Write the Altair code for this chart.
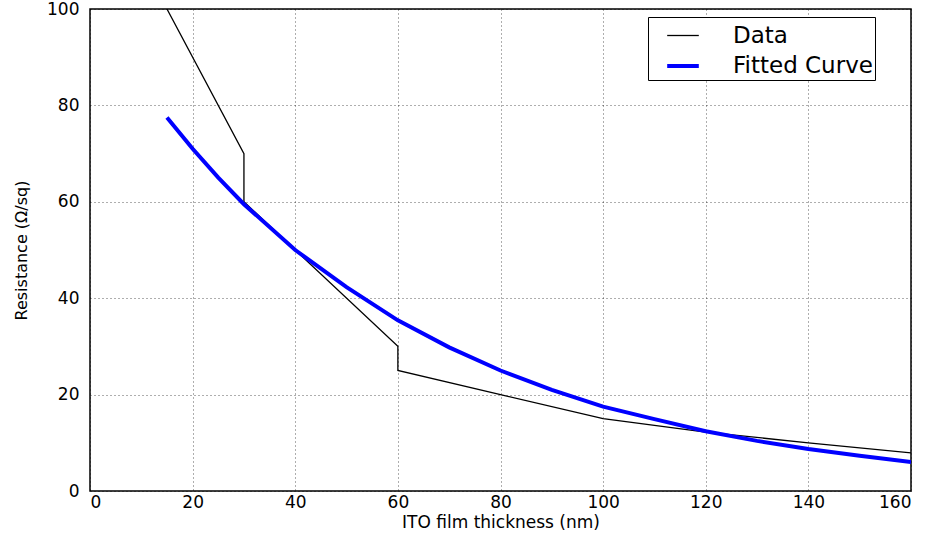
import altair as alt
import pandas as pd

# Measured data (black line)
data_x = [15, 30, 30, 40, 60, 60, 80, 100, 120, 140, 160]
data_y = [100, 70, 60, 50, 30, 25, 20, 15, 12.2, 10, 7.9]

# Fitted curve (blue line)
fit_x = [15, 20, 25, 30, 40, 50, 60, 70, 80, 90, 100, 110, 120, 130, 140, 150, 160]
fit_y = [77.5, 71, 65, 59.5, 50, 42.3, 35.4, 29.8, 25, 21, 17.5, 14.9, 12.4, 10.4, 8.7, 7.3, 6]

series_names = ["Data", "Fitted Curve"]

rows = []
for i, (x, y) in enumerate(zip(data_x, data_y)):
    rows.append({"x": x, "y": y, "series": series_names[0], "i": i})
for i, (x, y) in enumerate(zip(fit_x, fit_y)):
    rows.append({"x": x, "y": y, "series": series_names[1], "i": i})
df = pd.DataFrame(rows)

FONT = "DejaVu Sans"

leg = dict(title=None, orient="none", legendX=558, legendY=8, labelLimit=400)

chart = alt.Chart(df).mark_line(clip=True).encode(
    x=alt.X("x:Q", scale=alt.Scale(domain=[0, 160], nice=False),
            axis=alt.Axis(title="ITO film thickness (nm)", values=list(range(0, 161, 20)))),
    y=alt.Y("y:Q", scale=alt.Scale(domain=[0, 100], nice=False),
            axis=alt.Axis(title="Resistance (Ω/sq)", values=list(range(0, 101, 20)))),
    color=alt.Color("series:N", scale=alt.Scale(domain=series_names, range=["#000000", "#0000ff"]),
                    legend=alt.Legend(**leg)),
    strokeWidth=alt.StrokeWidth("series:N", scale=alt.Scale(domain=series_names, range=[1.3, 4]),
                                legend=alt.Legend(**leg)),
    order=alt.Order("i:Q"),
).properties(
    width=821, height=482,
    autosize=alt.AutoSizeParams(type="none"),
    padding={"left": 90, "top": 9, "right": 24, "bottom": 51},
).configure_view(
    stroke="#000000", strokeWidth=1.5
).configure_axis(
    grid=True, gridColor="#000000", gridDash=[1, 3], gridWidth=0.8, gridOpacity=0.8,
    domain=False, ticks=False,
    labelFont=FONT, labelFontSize=17, labelColor="#000000",
    titleFont=FONT, titleFontWeight="normal", titleColor="#000000",
).configure_axisX(
    titleFontSize=17, titlePadding=4, labelPadding=3,
).configure_axisY(
    titleFontSize=16, titlePadding=17, labelPadding=11,
).configure_legend(
    symbolType="stroke", symbolSize=1000, labelFont=FONT, labelFontSize=23,
    labelColor="#000000", strokeColor="#000000", fillColor="#ffffff",
    padding=2, rowPadding=0, labelOffset=32, cornerRadius=0,
    symbolOffset=15,
)

chart.save("out.html", embed_options={"renderer": "svg", "actions": False})
